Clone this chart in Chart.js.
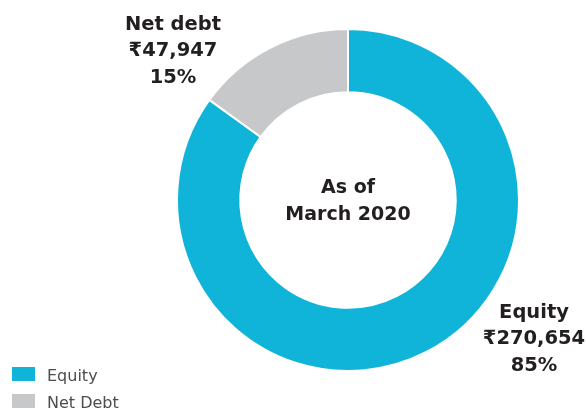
<!DOCTYPE html>
<html>
<head>
<meta charset="utf-8">
<script src="https://cdn.jsdelivr.net/npm/chart.js@4"></script>
<style>
  html, body { margin: 0; padding: 0; background: #fff; }
  #wrap { width: 586px; height: 410px; }
</style>
</head>
<body>
<div id="wrap"><canvas id="capChart" width="586" height="410"></canvas></div>
<script>
// Capital structure split (INR crore)
const segments = ['Equity', 'Net Debt'];
const calloutTitles = ['Equity', 'Net debt'];
const amounts = [270654, 47947];
const colors = ['#10b4d9', '#c7c8ca'];
const centerLines = ['As of', 'March 2020'];

const FONT = '"DejaVu Sans", "Noto Sans", sans-serif';
const INK = '#231f20';

const total = amounts.reduce((s, v) => s + v, 0);

// callout text anchors, relative to the doughnut centre
const calloutOffsets = [
  { dx: 186, dy: 118 },
  { dx: -175, dy: -170 }
];

const centerText = {
  id: 'centerText',
  afterDatasetsDraw(chart) {
    const meta = chart.getDatasetMeta(0);
    const arc = meta.data[0];
    const cx = arc.x, cy = arc.y;
    const ctx = chart.ctx;
    ctx.save();
    ctx.fillStyle = INK;
    ctx.textAlign = 'center';
    ctx.textBaseline = 'alphabetic';
    ctx.font = 'bold 19px ' + FONT;
    ctx.fillText(centerLines[0], cx, cy - 7);
    ctx.fillText(centerLines[1], cx, cy + 20);

    // value callouts
    ctx.font = 'bold 19.5px ' + FONT;
    amounts.forEach((v, i) => {
      const x = cx + calloutOffsets[i].dx;
      const y = cy + calloutOffsets[i].dy;
      const pct = Math.round(v / total * 100) + '%';
      ctx.fillText(calloutTitles[i], x, y);
      ctx.fillText('\u20B9' + v.toLocaleString('en-US'), x, y + 26);
      ctx.fillText(pct, x, y + 53);
    });

    // legend, bottom left
    ctx.textAlign = 'left';
    ctx.font = '16px ' + FONT;
    segments.forEach((label, i) => {
      const top = 367 + i * 27;
      ctx.fillStyle = colors[i];
      ctx.fillRect(12, top, 23, 14);
      ctx.fillStyle = '#4d4d4f';
      ctx.fillText(label, 47, top + 14);
    });
    ctx.restore();
  }
};

new Chart(document.getElementById('capChart'), {
  type: 'doughnut',
  data: {
    labels: segments,
    datasets: [{
      data: amounts,
      backgroundColor: colors,
      borderColor: '#ffffff',
      borderWidth: 2,
      hoverOffset: 0
    }]
  },
  options: {
    responsive: false,
    animation: false,
    cutout: '63%',
    layout: { padding: { left: 176, right: 66, top: 28, bottom: 38 } },
    plugins: {
      legend: { display: false },
      tooltip: { enabled: false }
    }
  },
  plugins: [centerText]
});
</script>
</body>
</html>
